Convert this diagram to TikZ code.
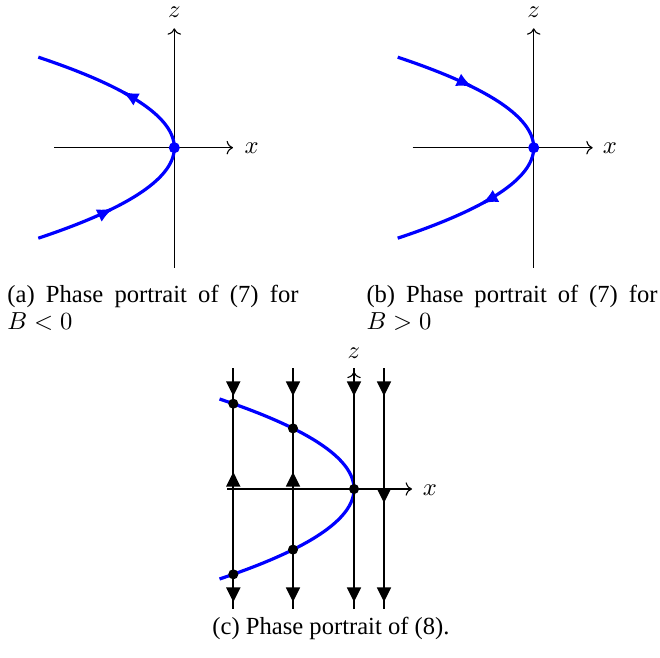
\documentclass[tikz,border=0pt]{standalone}
\usepackage[no-math]{fontspec}
\setmainfont{Liberation Serif}
\usetikzlibrary{arrows.meta}
\begin{document}
\begin{tikzpicture}[x=0.4065pt,y=-0.4065pt,
  axisline/.style={line width=0.45pt,-{To[length=2.6pt,width=5.5pt]}},
  bluecurve/.style={blue,line width=1.3pt},
  bluetip/.style={blue,line width=1.3pt,-{Latex[length=6.6pt,width=5.6pt]}},
  vline/.style={line width=0.9pt},
  btip/.style={line width=0.9pt,-{Triangle[length=5.9pt,width=5.6pt]}},
  lab/.style={inner sep=0pt},
  captext/.style={inner sep=0pt,anchor=base west,font=\fontsize{10}{11}\selectfont},
  bdot/.style={circle,fill=black,inner sep=0pt,minimum size=4.1pt},
  bluedot/.style={circle,fill=blue,inner sep=0pt,minimum size=4.5pt}]
\useasboundingbox (0,0) rectangle (660,658);

% ---------- panel (a)
\coordinate (aO) at (174.3,147.7);
\coordinate (aL) at (54,147.7);
\coordinate (aR) at (233,147.7);
\coordinate (aB) at (174.3,268);
\coordinate (aT) at (174.3,28.3);
\draw[axisline] (aL) -- (aR);
\draw[axisline] (aB) -- (aT);
\node[lab] (ax) at (251.7,148.3) {$x$};
\node[lab] (az) at (174.3,12.7) {$z$};
\draw[bluecurve] plot[domain=-90.5:90.5,samples=90,smooth,variable=\t]
  ({174.3-136*(\t/90.5)^2},{147.7-\t});
\draw[bluetip] ({174.3-136*(61.6/90.5)^2},{147.7+61.6}) -- ({174.3-136*(60.6/90.5)^2},{147.7+60.6});
\draw[bluetip] ({174.3-136*(55/90.5)^2},{147.7-55}) -- ({174.3-136*(56/90.5)^2},{147.7-56});
\node[bluedot] (adot) at (aO) {};

% ---------- panel (b)
\coordinate (bO) at (533.7,147.7);
\coordinate (bL) at (412.7,147.7);
\coordinate (bR) at (592.7,147.7);
\coordinate (bB) at (533.7,268);
\coordinate (bT) at (533.7,28.3);
\draw[axisline] (bL) -- (bR);
\draw[axisline] (bB) -- (bT);
\node[lab] (bx) at (610,148.3) {$x$};
\node[lab] (bz) at (533.7,12.7) {$z$};
\draw[bluecurve] plot[domain=-90.5:90.5,samples=90,smooth,variable=\t]
  ({533.7-136*(\t/90.5)^2},{147.7+\t});
\draw[bluetip] ({533.7-136*(61.6/90.5)^2},{147.7-61.6}) -- ({533.7-136*(60.6/90.5)^2},{147.7-60.6});
\draw[bluetip] ({533.7-136*(55/90.5)^2},{147.7+55}) -- ({533.7-136*(56/90.5)^2},{147.7+56});
\node[bluedot] (bdot0) at (bO) {};

% ---------- captions (a), (b)
\node[captext] (capa1) at (7,303) {\makebox[118.3pt][s]{(a) Phase portrait of (7) for}};
\node[captext] (capa2) at (7,330) {$B<0$};
\node[captext] (capb1) at (366,303) {\makebox[118.3pt][s]{(b) Phase portrait of (7) for}};
\node[captext] (capb2) at (366,330) {$B>0$};

% ---------- panel (c)
\coordinate (cO) at (354,489);
\draw[bluecurve] plot[domain=-90:90,samples=90,smooth,variable=\t]
  ({354-136*(\t/90.5)^2},{489+\t});
\foreach \n/\xx in {1/233.3,2/293,3/354,4/384}{
  \coordinate (ct\n) at (\xx,368);
  \coordinate (cb\n) at (\xx,609);
  \draw[vline] (ct\n) -- (cb\n);
  \draw[btip] (\xx,380) -- (\xx,396);
  \draw[btip] (\xx,586) -- (\xx,602);
}
\draw[btip] (233.3,490) -- (233.3,472);
\draw[btip] (293,490) -- (293,472);
\draw[btip] (384,488) -- (384,503);
\coordinate (cL) at (227,489);
\coordinate (cR) at (412,489);
\coordinate (cZ) at (354,371.7);
\draw[axisline] (cL) -- (cR);
\draw[axisline] (cb3) -- (cZ);
\node[lab] (cx) at (430,490) {$x$};
\node[lab] (cz) at (354,353.3) {$z$};
\node[bdot] (d1) at (233.3,403.7) {};
\node[bdot] (d2) at (233.3,574.3) {};
\node[bdot] (d3) at (293,428.4) {};
\node[bdot] (d4) at (293,549.6) {};
\node[bdot] (d5) at (cO) {};
\node[captext,anchor=base] (capc) at (331,634) {(c) Phase portrait of (8).};
\end{tikzpicture}
\end{document}
